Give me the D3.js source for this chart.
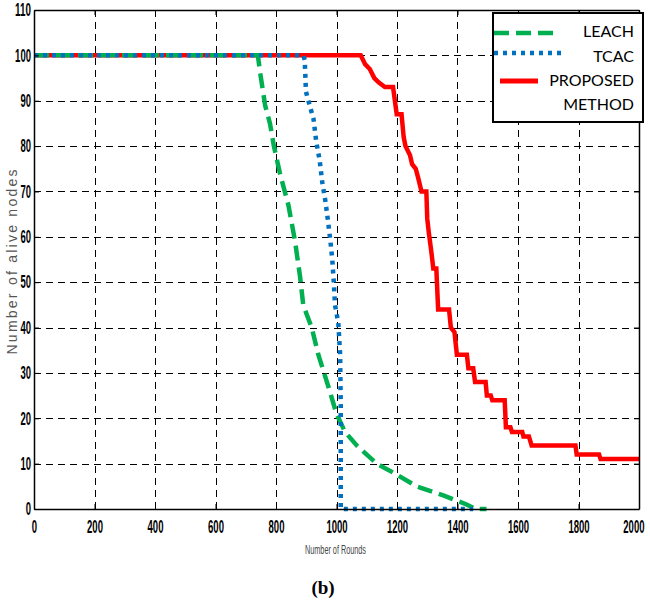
<!DOCTYPE html>
<html>
<head>
<meta charset="utf-8">
<script src="https://cdn.jsdelivr.net/npm/d3@7"></script>
<style>
  html, body { margin: 0; padding: 0; background: #fff; }
  svg { display: block; }
</style>
</head>
<body>
<svg id="chart" width="650" height="600"></svg>
<script>
// Alive nodes per round for each clustering protocol
const leachRounds = [0, 740, 748, 764, 780, 793, 813, 841, 863, 880, 890, 901, 918, 940, 973, 1000, 1028, 1067, 1133, 1188, 1265, 1353, 1430, 1460, 1496];
const leachAlive  = [100, 100, 96, 89, 85, 80, 74, 67, 59, 51, 45, 43, 40, 34, 27, 21, 17, 14, 10, 8, 5, 3, 1, 0, 0];

const tcacRounds = [0, 890, 895, 899, 907, 924, 933, 944, 953, 963, 971, 980, 986, 991, 995, 1006, 1012, 1014, 1014, 1452];
const tcacAlive  = [100, 100, 99, 92, 90, 86, 81, 77, 72, 68, 64, 59, 55, 50, 45, 41, 34, 23, 0, 0];

const propRounds = [0, 1080, 1095, 1110, 1125, 1140, 1160, 1187, 1197, 1199, 1215, 1222, 1228, 1243, 1250, 1262, 1270, 1281, 1297, 1300, 1305, 1313, 1320, 1330, 1336, 1372, 1378, 1390, 1398, 1431, 1436, 1452, 1458, 1493, 1497, 1510, 1515, 1556, 1560, 1575, 1580, 1614, 1618, 1636, 1645, 1790, 1794, 1868, 1873, 2000];
const propAlive  = [100, 100, 98, 97, 95, 94, 93, 93, 88, 87, 87, 82, 80, 78, 76, 75, 73, 70, 70, 64, 61, 57, 53, 53, 44, 44, 40, 39, 34, 34, 31, 31, 28, 28, 25, 25, 24, 24, 18, 18, 17, 17, 16, 16, 14, 14, 12, 12, 11, 11];

const xTicks = [0, 200, 400, 600, 800, 1000, 1200, 1400, 1600, 1800, 2000];
const yTicks = [0, 10, 20, 30, 40, 50, 60, 70, 80, 90, 100, 110];
const legendNames = ["LEACH", "TCAC", "PROPOSED", "METHOD"];

const svg = d3.select("#chart");
const x = d3.scaleLinear().domain([0, 2000]).range([34, 639]);
const y = d3.scaleLinear().domain([0, 110]).range([509, 10]);
const fmt = d3.format("d");

// dashed grid
const grid = svg.append("g");
grid.selectAll("line.gx").data(xTicks.slice(1, -1)).join("line")
  .attr("x1", d => Math.round(x(d)) + 0.5).attr("x2", d => Math.round(x(d)) + 0.5)
  .attr("y1", y(110)).attr("y2", y(0))
  .attr("stroke", "#000").attr("stroke-width", 1).attr("stroke-dasharray", "7,5");
grid.selectAll("line.gy").data(yTicks.slice(1, -1)).join("line")
  .attr("x1", x(0)).attr("x2", x(2000))
  .attr("y1", d => Math.round(y(d)) + 0.5).attr("y2", d => Math.round(y(d)) + 0.5)
  .attr("stroke", "#000").attr("stroke-width", 1).attr("stroke-dasharray", "7,5");

// series
const line = d3.line().x(d => x(d[0])).y(d => y(d[1]));
const zip = (a, b) => a.map((v, i) => [v, b[i]]);

svg.append("path").datum(zip(propRounds, propAlive))
  .attr("d", line).attr("fill", "none")
  .attr("stroke", "#ff0000").attr("stroke-width", 4.5).attr("stroke-linejoin", "miter");
svg.append("path").datum(zip(leachRounds, leachAlive))
  .attr("d", line).attr("fill", "none")
  .attr("stroke", "#00b050").attr("stroke-width", 4.5).attr("stroke-dasharray", "15,7");
svg.append("path").datum(zip(tcacRounds, tcacAlive))
  .attr("d", line).attr("fill", "none")
  .attr("stroke", "#0070c0").attr("stroke-width", 4.5).attr("stroke-dasharray", "4,5");

// axes with inward ticks on all four sides
const tickFont = g => g.selectAll("text")
  .attr("font-family", "'Liberation Sans Narrow', 'Liberation Sans', sans-serif")
  .attr("font-size", 18).attr("font-weight", "bold").attr("fill", "#000")
  .attr("textLength", function () { return this.textContent.length * 5.3; })
  .attr("lengthAdjust", "spacingAndGlyphs");

const styleAxis = g => {
  g.select(".domain").attr("stroke", "#000").attr("stroke-width", 1.5);
  g.selectAll(".tick line").attr("stroke", "#000");
};

const xAxisG = svg.append("g").attr("transform", `translate(0,${y(0)})`)
  .call(d3.axisBottom(x).tickValues(xTicks).tickFormat(fmt).tickSize(-5).tickSizeOuter(0).tickPadding(11))
  .call(styleAxis).call(tickFont);
// keep the last label inside the page edge
xAxisG.selectAll(".tick text").filter(d => d === 2000)
  .attr("text-anchor", "end").attr("x", 5);

svg.append("g").attr("transform", `translate(0,${y(110)})`)
  .call(d3.axisTop(x).tickValues(xTicks).tickSize(-5).tickSizeOuter(0).tickFormat(""))
  .call(styleAxis);
svg.append("g").attr("transform", `translate(${x(0)},0)`)
  .call(d3.axisLeft(y).tickValues(yTicks).tickFormat(fmt).tickSize(-5).tickSizeOuter(0).tickPadding(3))
  .call(styleAxis).call(tickFont);
svg.append("g").attr("transform", `translate(${x(2000)},0)`)
  .call(d3.axisRight(y).tickValues(yTicks).tickSize(-5).tickSizeOuter(0).tickFormat(""))
  .call(styleAxis);

// axis titles
svg.append("text")
  .attr("x", 335.5).attr("y", 554).attr("text-anchor", "middle")
  .attr("font-family", "'Liberation Sans Narrow', 'Liberation Sans', sans-serif")
  .attr("font-size", 13).attr("fill", "#444")
  .attr("textLength", 61).attr("lengthAdjust", "spacingAndGlyphs")
  .text("Number of Rounds");

svg.append("text")
  .attr("transform", "translate(17,262) rotate(-90)")
  .attr("text-anchor", "middle")
  .attr("font-family", "'Liberation Sans Narrow', 'Liberation Sans', sans-serif")
  .attr("font-size", 14).attr("fill", "#555")
  .attr("textLength", 185).attr("lengthAdjust", "spacing")
  .text("Number of alive nodes");

svg.append("text")
  .attr("x", 323).attr("y", 594).attr("text-anchor", "middle")
  .attr("font-family", "'Liberation Serif', 'Times New Roman', serif")
  .attr("font-size", 19).attr("font-weight", "bold").attr("fill", "#000")
  .text("(b)");

// legend
const lg = svg.append("g");
lg.append("rect").attr("x", 493).attr("y", 13).attr("width", 150).attr("height", 109)
  .attr("fill", "#fff").attr("stroke", "#000").attr("stroke-width", 2);
lg.append("line").attr("x1", 494).attr("x2", 558).attr("y1", 33).attr("y2", 33)
  .attr("stroke", "#00b050").attr("stroke-width", 4.5).attr("stroke-dasharray", "15,7");
lg.append("line").attr("x1", 494).attr("x2", 566).attr("y1", 53).attr("y2", 53)
  .attr("stroke", "#0070c0").attr("stroke-width", 4.5).attr("stroke-dasharray", "4,5");
lg.append("line").attr("x1", 500).attr("x2", 538).attr("y1", 81).attr("y2", 81)
  .attr("stroke", "#ff0000").attr("stroke-width", 5);
const legendY = [37, 62, 86, 110];
lg.selectAll("text").data(legendNames).join("text")
  .attr("x", 634).attr("y", (d, i) => legendY[i]).attr("text-anchor", "end")
  .attr("font-family", "Lato, 'Open Sans', sans-serif").attr("font-size", 16).attr("fill", "#000")
  .text(d => d);
</script>
</body>
</html>
